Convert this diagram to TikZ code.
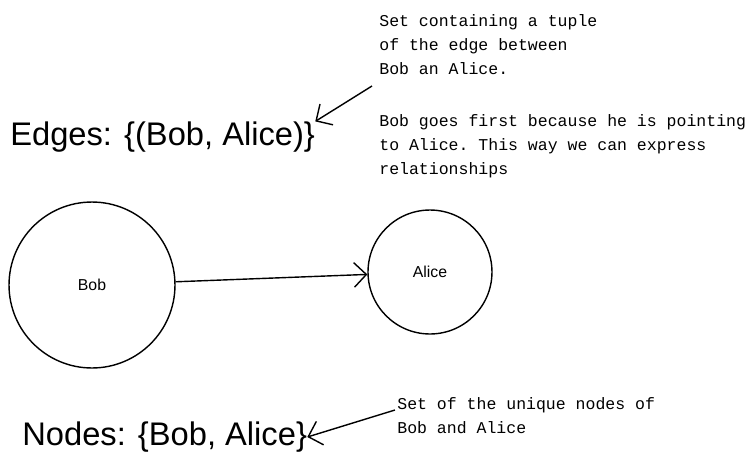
\documentclass[tikz,border=0pt]{standalone}
\usepackage{fontspec}
\setmainfont{Liberation Sans}
\setmonofont{Liberation Mono}
\usetikzlibrary{arrows.meta,positioning}
\begin{document}
\begin{tikzpicture}[x=0.02cm,y=-0.02cm,
    every node/.style={inner sep=0pt},
    vertex/.style={circle,draw,thick},
    note/.style={align=left,anchor=north west,font=\ttfamily\fontsize{9.4}{13.6}\selectfont},
    heading/.style={anchor=west,font=\fontsize{18.6}{22}\selectfont},
    every edge/.style={draw,thick,-{Straight Barb[length=7pt]}}
  ]
  \useasboundingbox (0,0) rectangle (755,471);
  % graph
  \node[vertex,minimum size=3.32cm](Bob) at (92,285){\small Bob};
  \node[vertex,minimum size=2.48cm](Alice) at (430,272){\small Alice};
  \path (Bob) edge (Alice);
  % sets
  \node[heading](E) at (10,137){Edges: \{(Bob, Alice)\}};
  \node[heading](N) at (22,437){Nodes: \{Bob, Alice\}};
  % notes
  \node[note](T1) at (379,14){Set containing a tuple\\of the edge between\\Bob an Alice.};
  \node[note](T2) at (379,114){Bob goes first because he is pointing\\to Alice. This way we can express\\relationships};
  \node[note](T3) at (397,397){Set of the unique nodes of\\Bob and Alice};
  \coordinate (a1) at (372,86);
  \coordinate (a2) at (395,410);
  \path (a1) edge (E.north east)
        (a2) edge (N.east);
\end{tikzpicture}
\end{document}
